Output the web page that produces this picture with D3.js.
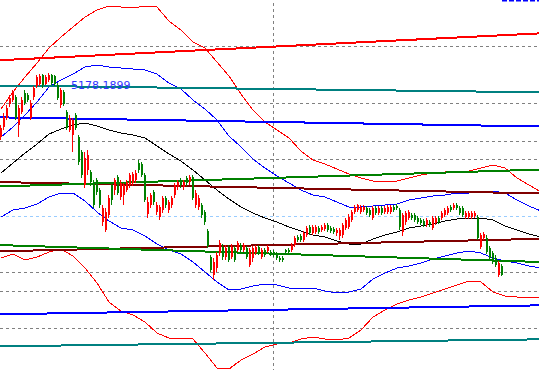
<!DOCTYPE html>
<html>
<head>
<meta charset="utf-8">
<script src="https://cdn.jsdelivr.net/npm/d3@7/dist/d3.min.js"></script>
<style>
body { margin: 0; background: #fff; overflow: hidden; }
</style>
</head>
<body>
<div id="chart"></div>
<script>
// daily bars: [open, high, low, close]
var ohlc = [
  [4538,4658,4508,4628],[4638,4778,4608,4738],[4728,4858,4708,4828],[4868,4958,4838,4928],
  [4908,5008,4888,4988],[4938,4958,4708,4728],[4658,4858,4538,4828],[4788,4938,4768,4908],
  [4978,5008,4858,4878],[4958,4978,4888,4908],[4728,4908,4708,4878],[4938,5048,4908,5028],
  [5048,5158,5028,5138],[5068,5168,5048,5148],[5158,5168,5028,5058],[5068,5158,5058,5138],
  [5108,5178.1899,5088,5158],[5158,5168,5058,5078],[5148,5158,5048,5068],[5058,5078,4908,4928],
  [4858,5028,4828,5008],[4988,5008,4848,4868],[4788,4808,4608,4628],[4608,4758,4588,4728],
  [4558,4728,4388,4708],[4758,4778,4608,4628],[4538,4558,4258,4288],[4388,4408,4128,4158],
  [4058,4388,4028,4328],[4208,4408,4158,4358],[4188,4208,4048,4088],[4078,4108,3828,3858],
  [4108,4128,3958,3988],[4008,4028,3828,3858],[3688,3858,3648,3828],[3608,3828,3588,3788],
  [3758,3958,3728,3928],[4058,4078,3858,3908],[4008,4128,3958,4108],[4138,4158,3958,3978],
  [3938,4108,3908,4078],[3958,4078,3858,4058],[4008,4108,3988,4088],[4058,4178,4028,4158],
  [4078,4188,4048,4168],[4108,4208,4078,4178],[4278,4308,4178,4208],[4268,4288,4138,4158],
  [4158,4178,3888,3908],[3768,3938,3728,3888],[3858,3978,3828,3958],[3988,4008,3858,3888],
  [3788,3888,3758,3858],[3738,3858,3708,3838],[3808,3948,3778,3928],[3928,3948,3828,3858],
  [3808,3908,3778,3888],[3858,3948,3828,3928],[3958,4078,3928,4058],[4038,4108,4008,4088],
  [4108,4128,4028,4058],[4038,4108,4008,4088],[4128,4148,4048,4078],[4088,4158,4058,4138],
  [4138,4158,3908,3928],[3858,4008,3828,3978],[3838,3958,3808,3928],[3858,3878,3728,3758],
  [3788,3808,3658,3688],[3598,3618,3428,3448],[3338,3358,3188,3208],[3158,3328,3108,3288],
  [3228,3388,3188,3358],[3378,3508,3348,3478],[3438,3468,3308,3338],[3338,3458,3308,3428],
  [3438,3458,3288,3308],[3338,3468,3318,3438],[3428,3448,3288,3308],[3408,3498,3388,3478],
  [3458,3478,3388,3408],[3408,3478,3388,3458],[3428,3448,3318,3338],[3258,3428,3238,3408],
  [3328,3448,3288,3428],[3378,3458,3358,3438],[3438,3458,3358,3378],[3338,3428,3318,3408],
  [3408,3428,3338,3358],[3398,3458,3378,3438],[3388,3408,3348,3368],[3388,3408,3338,3358],
  [3368,3388,3308,3328],[3328,3348,3288,3308],[3328,3348,3288,3308],[3408,3418,3368,3388],
  [3408,3428,3368,3388],[3408,3478,3388,3458],[3458,3548,3438,3528],[3538,3558,3488,3508],
  [3548,3568,3488,3508],[3508,3598,3488,3578],[3558,3648,3538,3628],[3638,3658,3558,3578],
  [3578,3658,3558,3638],[3588,3658,3568,3638],[3628,3648,3568,3588],[3608,3658,3588,3638],
  [3618,3678,3598,3658],[3658,3678,3588,3608],[3628,3648,3578,3598],[3618,3638,3568,3588],
  [3578,3628,3548,3608],[3548,3628,3508,3608],[3558,3678,3528,3658],[3628,3728,3608,3708],
  [3638,3768,3618,3738],[3708,3808,3688,3788],[3788,3858,3768,3838],[3808,3868,3788,3858],
  [3788,3858,3768,3838],[3808,3858,3788,3838],[3828,3848,3758,3778],[3808,3828,3738,3758],
  [3728,3848,3708,3828],[3828,3848,3758,3778],[3778,3848,3758,3828],[3828,3848,3758,3778],
  [3788,3848,3768,3828],[3788,3858,3768,3838],[3788,3858,3768,3838],[3838,3858,3788,3808],
  [3848,3868,3808,3828],[3808,3828,3608,3638],[3588,3778,3548,3758],[3688,3798,3658,3778],
  [3728,3808,3708,3788],[3758,3778,3708,3728],[3758,3778,3688,3708],[3728,3748,3668,3688],
  [3708,3728,3658,3678],[3698,3718,3638,3658],[3658,3728,3638,3708],[3688,3708,3638,3658],
  [3628,3748,3608,3728],[3678,3748,3658,3728],[3728,3748,3668,3688],[3728,3798,3708,3778],
  [3758,3828,3738,3808],[3778,3848,3758,3828],[3838,3858,3788,3808],[3828,3878,3808,3858],
  [3858,3878,3808,3828],[3828,3848,3758,3778],[3828,3848,3738,3758],[3738,3798,3718,3778],
  [3738,3798,3718,3778],[3738,3798,3718,3778],[3748,3798,3728,3778],[3738,3758,3508,3528],
  [3438,3578,3418,3558],[3528,3588,3508,3568],[3528,3558,3368,3388],[3428,3448,3308,3328],
  [3378,3398,3268,3288],[3328,3358,3238,3258],[3158,3298,3138,3278],[3248,3268,3148,3158]
];

// band values, one every bandStep bars (bar 0, 4, 8 ... 180)
var bandStep = 4;
var outerUpper = [4818,4988,5138,5278,5428,5538,5638,5738,5808,5848,5838,5828,5848,5838,5698,5608,
  5488,5428,5288,5148,4968,4808,4688,4608,4528,4398,4308,4268,4218,4168,4128,4098,4088,4098,4128,
  4158,4178,4188,4198,4198,4228,4258,4228,4128,4058,3988];
var innerUpper = [4538,4638,4758,4888,5038,5108,5168,5238,5258,5238,5228,5218,5208,5168,5078,5018,
  4908,4818,4708,4548,4438,4318,4228,4148,4078,4008,3958,3938,3888,3838,3838,3848,3858,3868,3908,
  3928,3948,3958,3978,3978,3988,3998,3978,3908,3848,3798];
var midLine = [4178,4278,4378,4468,4568,4618,4658,4678,4648,4608,4578,4558,4528,4448,4368,4298,
  4208,4108,4008,3918,3838,3778,3728,3688,3638,3598,3558,3538,3498,3468,3468,3518,3558,3588,3628,
  3648,3668,3698,3718,3728,3728,3708,3648,3608,3568,3538];
var innerLower = [3738,3808,3828,3868,3938,3978,3978,3898,3788,3698,3628,3608,3548,3468,3408,3368,
  3288,3188,3088,3008,3018,3048,3068,3058,3028,3018,3028,2998,2978,2988,3018,3118,3178,3228,3248,
  3278,3318,3348,3378,3398,3378,3328,3298,3278,3248,3228];
var outerLower = [3328,3368,3308,3338,3388,3418,3348,3228,3078,2888,2798,2758,2688,2578,2528,2528,
  2518,2378,2228,2218,2308,2368,2438,2468,2478,2518,2538,2518,2508,2528,2608,2738,2808,2868,2908,
  2938,2978,3018,3058,3098,3088,2988,2948,2938,2938,2938];

// drawn trend lines: price at bar -1 and at bar 180
var trendStart = [5305, 5053, 4735, 4088, 4043, 3395, 3458, 2765, 2445];
var trendEnd   = [5575, 4985, 4643, 3973, 4213, 3520, 3288, 2855, 2515];
var trendColors = ["#ff0000", "#008080", "#0000ff", "#800000", "#008000", "#800000", "#008000", "#0000ff", "#008080"];

var gridLevels = [5448, 4875, 4498, 4315, 3185, 2995, 2625];
var refLevel = 3745;
var markerBar = 91;

var width = 539, height = 370;
var lastBar = 179;

var x = d3.scaleLinear().domain([0, lastBar]).range([1, 538]);
var y = d3.scaleLinear().domain([2208.19, 5908.19]).range([height, 0]);

var svg = d3.select("#chart").append("svg")
    .attr("width", width)
    .attr("height", height)
    .style("display", "block");

function py(v) { return Math.round(y(v)) + 0.5; }

// horizontal dashed levels
svg.append("g").selectAll("line")
    .data(gridLevels)
    .enter().append("line")
    .attr("x1", 0).attr("x2", width)
    .attr("y1", py).attr("y2", py)
    .attr("stroke", "#808080")
    .attr("stroke-dasharray", "3,3")
    .attr("shape-rendering", "crispEdges");

svg.append("line")
    .attr("x1", 0).attr("x2", width)
    .attr("y1", py(refLevel)).attr("y2", py(refLevel))
    .attr("stroke", "#99ccff")
    .attr("stroke-dasharray", "3,3")
    .attr("shape-rendering", "crispEdges");

// vertical marker
var mx = Math.round(x(markerBar)) - 0.5;
svg.append("line")
    .attr("x1", mx).attr("x2", mx)
    .attr("y1", 0).attr("y2", height)
    .attr("stroke", "#808080")
    .attr("stroke-dasharray", "3,3")
    .attr("stroke-dashoffset", -3)
    .attr("shape-rendering", "crispEdges");

// bands
var bandLine = d3.line()
    .x(function (d, k) { return x(k * bandStep); })
    .y(function (d) { return y(d); });

var bands = [
    [outerUpper, "#ff0000"],
    [outerLower, "#ff0000"],
    [innerUpper, "#0000ff"],
    [innerLower, "#0000ff"],
    [midLine, "#000000"]
];
bands.forEach(function (b) {
    svg.append("path")
        .datum(b[0])
        .attr("d", bandLine)
        .attr("fill", "none")
        .attr("stroke", b[1])
        .attr("stroke-width", 1)
        .attr("shape-rendering", "crispEdges");
});

// trend lines
svg.append("g").selectAll("line")
    .data(trendStart)
    .enter().append("line")
    .attr("x1", x(-1)).attr("x2", x(lastBar + 1))
    .attr("y1", function (d) { return y(d); })
    .attr("y2", function (d, k) { return y(trendEnd[k]); })
    .attr("stroke", function (d, k) { return trendColors[k]; })
    .attr("stroke-width", 2)
    .attr("shape-rendering", "crispEdges");

// candles (red up, green down)
var candle = svg.append("g").selectAll("g")
    .data(ohlc)
    .enter().append("g");

function candleColor(d) { return d[3] >= d[0] ? "#ff0000" : "#008000"; }

candle.append("rect")
    .attr("x", function (d, i) { return Math.round(x(i)) - 1; })
    .attr("width", 1)
    .attr("y", function (d) { return Math.round(y(d[1])); })
    .attr("height", function (d) { return Math.max(1, Math.round(y(d[2])) - Math.round(y(d[1]))); })
    .attr("fill", candleColor)
    .attr("shape-rendering", "crispEdges");

candle.append("rect")
    .attr("x", function (d, i) { return Math.round(x(i)) - 1; })
    .attr("width", 2)
    .attr("y", function (d) { return Math.round(y(Math.max(d[0], d[3]))); })
    .attr("height", function (d) {
        return Math.max(1, Math.round(y(Math.min(d[0], d[3]))) - Math.round(y(Math.max(d[0], d[3]))));
    })
    .attr("fill", candleColor)
    .attr("shape-rendering", "crispEdges");

// highest price label
var hiIdx = d3.maxIndex(ohlc, function (d) { return d[1]; });
var hi = ohlc[hiIdx][1];
svg.append("text")
    .attr("x", x(hiIdx) + 22)
    .attr("y", y(hi) + 15.5)
    .attr("fill", "#3333ff")
    .style("font-family", "DejaVu Sans, sans-serif")
    .style("font-size", "11px")
    .text(d3.format(".4f")(hi));

// small blue marker at the top right
svg.append("line")
    .attr("x1", x(167)).attr("x2", width)
    .attr("y1", 0.75).attr("y2", 0.75)
    .attr("stroke", "#0000ff")
    .attr("stroke-width", 1.5)
    .attr("stroke-dasharray", "5,2");
</script>
</body>
</html>
